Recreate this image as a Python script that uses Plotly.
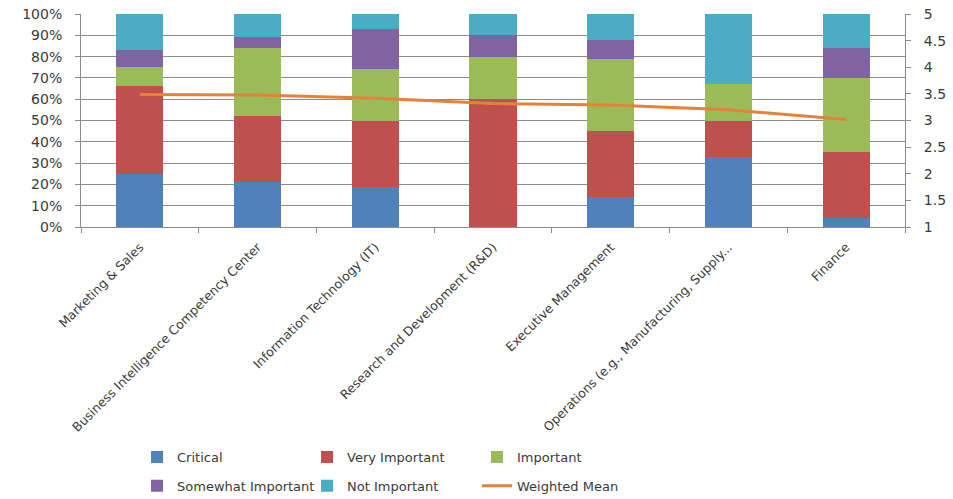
import plotly.graph_objects as go

# Business functions surveyed
categories = [
    "Marketing & Sales",
    "Business Intelligence Competency Center",
    "Information Technology (IT)",
    "Research and Development (R&D)",
    "Executive Management",
    "Operations (e.g., Manufacturing, Supply...",
    "Finance",
]

# Share of responses per importance level (percent)
critical = [25, 21, 19, 0, 14, 33, 4]
very_important = [41, 31, 31, 60, 31, 17, 31]
important = [9, 32, 24, 20, 34, 17, 35]
somewhat_important = [8, 5, 19, 10, 9, 0, 14]
not_important = [17, 11, 7, 10, 12, 33, 16]

# Weighted mean importance score (1-5 scale)
weighted_mean = [3.49, 3.48, 3.42, 3.32, 3.29, 3.20, 3.02]

left_ticks = [0, 10, 20, 30, 40, 50, 60, 70, 80, 90, 100]
left_tick_labels = [f"{v}%" for v in left_ticks]
right_ticks = [1, 1.5, 2, 2.5, 3, 3.5, 4, 4.5, 5]
right_tick_labels = ["1", "1.5", "2", "2.5", "3", "3.5", "4", "4.5", "5"]

FONT = "DejaVu Sans"
TEXT = "#3a3a3a"
GRID = "#8c8c8c"

series = [
    ("Critical", critical, "#4F81BD", "legend"),
    ("Very Important", very_important, "#C0504D", "legend"),
    ("Important", important, "#9BBB59", "legend"),
    ("Somewhat Important", somewhat_important, "#8064A2", "legend2"),
    ("Not Important", not_important, "#4BACC6", "legend2"),
]

fig = go.Figure()
for name, vals, color, leg in series:
    fig.add_trace(go.Bar(
        x=categories, y=vals, name=name,
        marker=dict(color=color, line=dict(width=0)),
        legend=leg,
    ))

fig.add_trace(go.Scatter(
    x=categories, y=weighted_mean, name="Weighted Mean",
    mode="lines", line=dict(color="#E5823A", width=3),
    yaxis="y2", legend="legend2",
))

legend_common = dict(
    orientation="h", entrywidth=125, entrywidthmode="pixels",
    font=dict(family=FONT, size=13, color=TEXT),
    bgcolor="rgba(0,0,0,0)", traceorder="normal",
    xanchor="left", yanchor="middle", x=0.068,
    itemclick=False, itemdoubleclick=False,
)

fig.update_layout(
    width=953, height=499,
    margin=dict(l=81, r=48, t=14, b=272, autoexpand=False),
    paper_bgcolor="white", plot_bgcolor="white",
    barmode="stack", bargap=0.6,
    font=dict(family=FONT, size=13, color=TEXT),
    showlegend=True,
    legend=dict(**legend_common, y=-1.08),
    legend2=dict(**legend_common, y=-1.215),
    xaxis=dict(
        type="category", tickangle=-45,
        ticks="outside", tickson="boundaries", ticklen=5, tickcolor=GRID,
        showline=True, linecolor=GRID, linewidth=1,
        showgrid=False, ticklabelstandoff=7,
        tickfont=dict(family=FONT, size=12.5, color=TEXT),
    ),
    yaxis=dict(
        range=[0, 100], tickvals=left_ticks, ticktext=left_tick_labels,
        ticks="outside", ticklen=5, tickcolor=GRID,
        showline=True, linecolor=GRID, linewidth=1,
        showgrid=True, gridcolor=GRID, gridwidth=1,
        zeroline=False, ticklabelstandoff=10,
        tickfont=dict(family=FONT, size=14, color=TEXT),
    ),
    yaxis2=dict(
        range=[1, 5], tickvals=right_ticks, ticktext=right_tick_labels,
        overlaying="y", side="right",
        ticks="outside", ticklen=5, tickcolor=GRID,
        showline=True, linecolor=GRID, linewidth=1,
        showgrid=False, zeroline=False, ticklabelstandoff=10,
        tickfont=dict(family=FONT, size=14, color=TEXT),
    ),
)

fig.write_html("out.html")
